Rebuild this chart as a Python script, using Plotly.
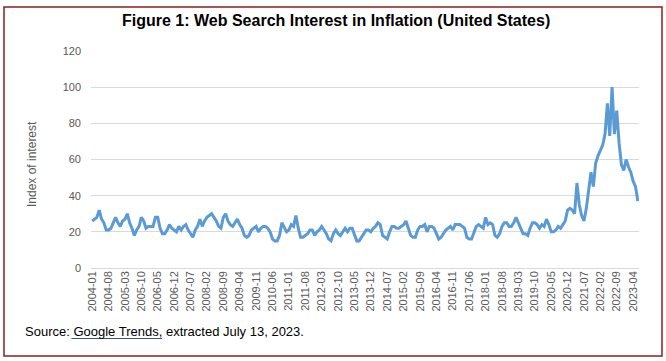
import plotly.graph_objects as go

# ---- data (Google Trends, monthly, 2004-01 .. 2023-06) ----
years = list(range(2004, 2024))
months = [f"{y}-{m:02d}" for y in years for m in range(1, 13)][:234]

v2004 = [26, 27, 28, 32, 27, 25, 21, 21, 22, 25, 28, 25]
v2005 = [23, 26, 27, 30, 25, 22, 18, 21, 23, 28, 26, 22]
v2006 = [23, 23, 23, 28, 28, 22, 19, 19, 21, 24, 22, 21]
v2007 = [20, 23, 21, 23, 24, 21, 19, 17, 21, 23, 27, 23]
v2008 = [26, 28, 29, 30, 28, 26, 23, 22, 28, 30, 26, 24]
v2009 = [23, 25, 27, 24, 22, 18, 17, 18, 21, 22, 23, 20]
v2010 = [22, 23, 23, 22, 20, 16, 15, 15, 18, 25, 22, 20]
v2011 = [21, 24, 23, 29, 22, 17, 17, 18, 19, 21, 21, 18]
v2012 = [20, 21, 23, 21, 19, 16, 15, 19, 21, 19, 18, 20]
v2013 = [22, 20, 22, 22, 18, 15, 15, 17, 19, 21, 21, 20]
v2014 = [22, 23, 25, 24, 18, 17, 16, 20, 23, 23, 22, 22]
v2015 = [23, 24, 26, 22, 18, 17, 17, 21, 23, 23, 24, 20]
v2016 = [23, 23, 22, 19, 16, 17, 19, 21, 22, 23, 21, 24]
v2017 = [24, 24, 23, 22, 17, 16, 16, 20, 23, 24, 23, 22]
v2018 = [28, 24, 25, 24, 18, 17, 19, 23, 25, 25, 23, 23]
v2019 = [25, 28, 25, 22, 19, 19, 18, 22, 25, 25, 24, 22]
v2020 = [24, 23, 27, 24, 20, 20, 21, 23, 22, 24, 26, 32]
v2021 = [33, 32, 30, 47, 35, 29, 26, 33, 44, 53, 45, 58]
v2022 = [62, 65, 68, 74, 91, 73, 100, 74, 87, 69, 57, 54]
v2023 = [60, 56, 53, 48, 45, 37]

values = (v2004 + v2005 + v2006 + v2007 + v2008 + v2009 + v2010 + v2011 +
          v2012 + v2013 + v2014 + v2015 + v2016 + v2017 + v2018 + v2019 +
          v2020 + v2021 + v2022 + v2023)

tick_labels = months[::7]
y_ticks = [0, 20, 40, 60, 80, 100, 120]

title_text = "Figure 1: Web Search Interest in Inflation (United States)"
y_title = "Index of interest"
source_text = "Source: Google Trends, extracted July 13, 2023."

# ---- layout geometry (pixels) ----
W, H = 666, 361
L, R, T, B = 91, 27, 51, 93
PW, PH = W - L - R, H - T - B


def px(x):
    return (x - L) / PW


def py(y):
    return (H - B - y) / PH


FONT = "Liberation Sans, Arial, sans-serif"
GRAY = "#595959"

fig = go.Figure()
fig.add_trace(go.Scatter(
    x=months, y=values, mode="lines",
    line=dict(color="#5B9BD5", width=3),
    hoverinfo="x+y", showlegend=False,
))

fig.update_layout(
    width=W, height=H,
    margin=dict(l=L, r=R, t=T, b=B, pad=0),
    paper_bgcolor="white", plot_bgcolor="white",
    font=dict(family=FONT, color=GRAY, size=11),
    xaxis=dict(
        type="category", categoryorder="array", categoryarray=months,
        range=[-0.5, len(months) - 0.5],
        tickmode="array", tickvals=tick_labels, ticktext=tick_labels,
        tickangle=-90, tickfont=dict(size=11, color=GRAY, family=FONT),
        showgrid=False, showline=False, zeroline=False, ticks="",
    ),
    yaxis=dict(
        range=[0, 120], tickmode="array", tickvals=y_ticks,
        tickfont=dict(size=11, color=GRAY, family=FONT),
        showgrid=True, gridcolor="#D9D9D9", gridwidth=1,
        zeroline=True, zerolinecolor="#D9D9D9", zerolinewidth=1,
        showline=False, ticks="", ticklabelstandoff=9,
    ),
    annotations=[
        dict(text=f"<b>{title_text}</b>", xref="paper", yref="paper",
             x=px(336), y=py(21), xanchor="center", yanchor="middle",
             showarrow=False, font=dict(size=16, color="black", family=FONT)),
        dict(text=y_title, xref="paper", yref="paper",
             x=px(32), y=py(164), xanchor="center", yanchor="middle",
             textangle=-90, showarrow=False,
             font=dict(size=12, color=GRAY, family=FONT)),
        dict(text=source_text, xref="paper", yref="paper",
             x=px(23), y=py(331.5), xanchor="left", yanchor="middle",
             showarrow=False, font=dict(size=13, color="black", family=FONT)),
    ],
    shapes=[
        dict(type="rect", xref="paper", yref="paper",
             x0=px(4), x1=px(662), y0=py(356), y1=py(7),
             line=dict(color="#8B1E1E", width=1.5), fillcolor="rgba(0,0,0,0)",
             layer="below"),
        dict(type="line", xref="paper", yref="paper",
             x0=px(71.5), x1=px(162), y0=py(338.5), y1=py(338.5),
             line=dict(color="#2F5597", width=1)),
    ],
)

fig.write_html(
    "out.html",
    config={"displayModeBar": False},
    post_script="document.body.style.margin='0';document.body.style.overflow='hidden';",
)
